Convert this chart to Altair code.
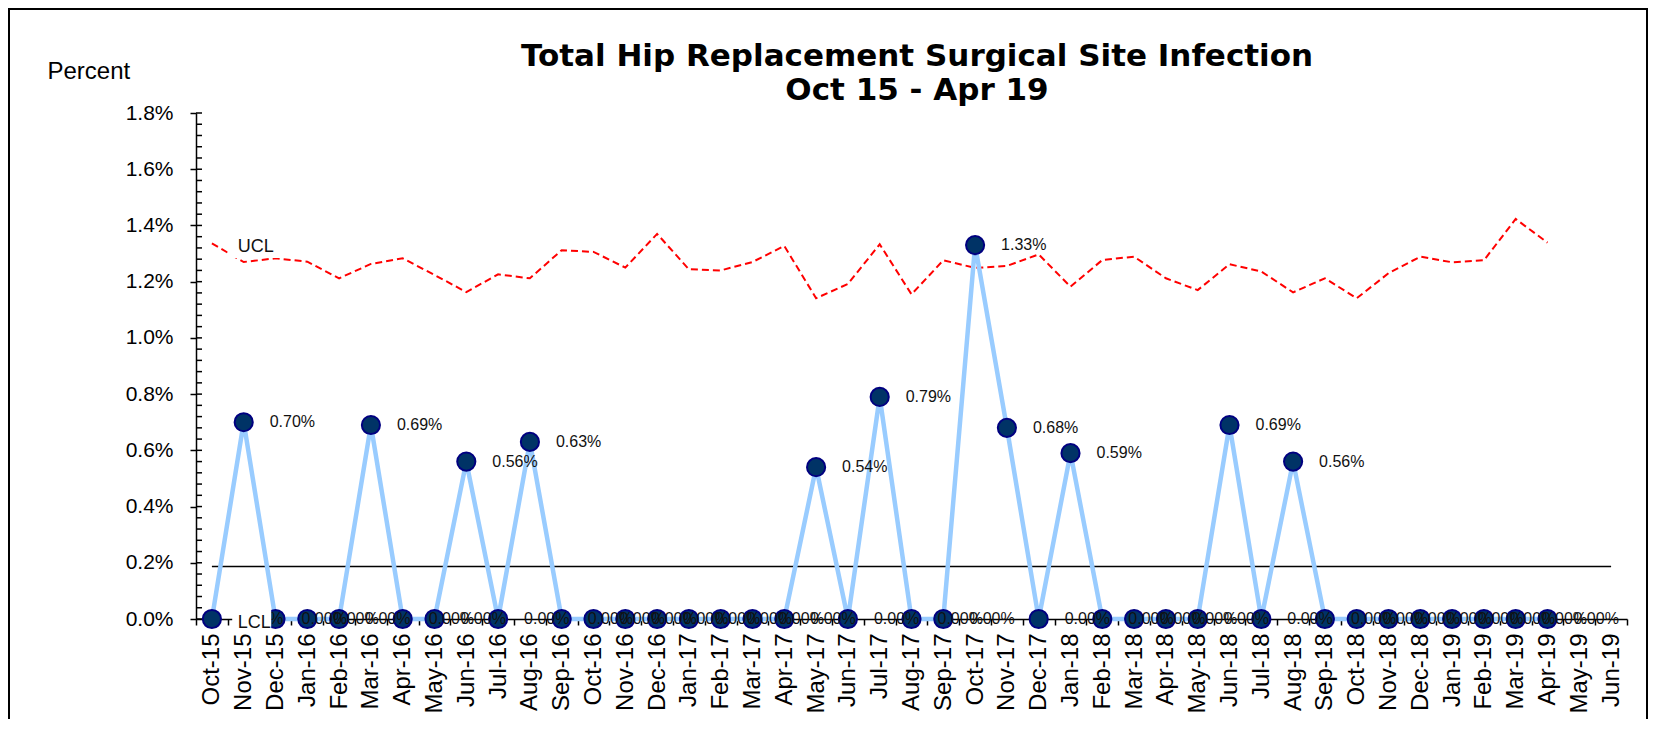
import altair as alt
import pandas as pd

FONT = "Liberation Sans"

months = ["Oct-15", "Nov-15", "Dec-15",
          "Jan-16", "Feb-16", "Mar-16", "Apr-16", "May-16", "Jun-16",
          "Jul-16", "Aug-16", "Sep-16", "Oct-16", "Nov-16", "Dec-16",
          "Jan-17", "Feb-17", "Mar-17", "Apr-17", "May-17", "Jun-17",
          "Jul-17", "Aug-17", "Sep-17", "Oct-17", "Nov-17", "Dec-17",
          "Jan-18", "Feb-18", "Mar-18", "Apr-18", "May-18", "Jun-18",
          "Jul-18", "Aug-18", "Sep-18", "Oct-18", "Nov-18", "Dec-18",
          "Jan-19", "Feb-19", "Mar-19", "Apr-19", "May-19", "Jun-19"]

infection_rate = [0.00, 0.70, 0.00, 0.00, 0.00, 0.69, 0.00, 0.00, 0.56,
                  0.00, 0.63, 0.00, 0.00, 0.00, 0.00, 0.00, 0.00, 0.00,
                  0.00, 0.54, 0.00, 0.79, 0.00, 0.00, 1.33, 0.68, 0.00,
                  0.59, 0.00, 0.00, 0.00, 0.00, 0.69, 0.00, 0.56, 0.00,
                  0.00, 0.00, 0.00, 0.00, 0.00, 0.00, 0.00]

ucl = [1.336, 1.270, 1.283, 1.271, 1.212, 1.263, 1.283, 1.224, 1.163,
       1.226, 1.212, 1.312, 1.306, 1.250, 1.370, 1.244, 1.240, 1.270,
       1.327, 1.141, 1.192, 1.333, 1.155, 1.276, 1.249, 1.256, 1.297,
       1.182, 1.277, 1.289, 1.212, 1.170, 1.262, 1.236, 1.162, 1.212,
       1.141, 1.230, 1.289, 1.269, 1.276, 1.423, 1.339]

lcl_value = 0.0
mean_rate = 0.187

y_major = [0.0, 0.2, 0.4, 0.6, 0.8, 1.0, 1.2, 1.4, 1.6, 1.8]
y_all_ticks = [round(i * 0.04, 2) for i in range(46)]

title_lines = ["Total Hip Replacement Surgical Site Infection", "Oct 15 - Apr 19"]

n = len(infection_rate)
df = pd.DataFrame({"month": months[:n], "rate": infection_rate, "ucl": ucl})
df["label"] = [f"{v:.2f}%" for v in infection_rate]
mean_df = pd.DataFrame({"month": months, "mean": [mean_rate] * len(months)})
tick_df = pd.DataFrame({"tick": y_all_ticks})
ucl_lbl = pd.DataFrame({"month": [months[1]], "value": [ucl[1]], "text": ["UCL"]})
lcl_lbl = pd.DataFrame({"month": [months[1]], "value": [lcl_value], "text": ["LCL"]})
title_df = pd.DataFrame({"line": title_lines})
one_df = pd.DataFrame({"frame": [0]})

xscale = alt.Scale(type="band", domain=months, paddingInner=0, paddingOuter=0)
x_axis = alt.Axis(title=None, labelAngle=-90, labelFontSize=24, labelFont=FONT,
                  labelColor="black", labelPadding=8, tickBand="extent", tickSize=6,
                  tickColor="black", tickWidth=1.5, domainColor="black", domainWidth=1.5,
                  labelOverlap=False, grid=False)

yscale = alt.Scale(domain=[0, 1.8], nice=False, zero=True)
y_axis = alt.Axis(values=y_major, labelExpr="format(datum.value, '.1f') + '%'",
                  title="Percent", titleAngle=0, titleAlign="left",
                  titleBaseline="alphabetic", titleX=-149, titleY=-35,
                  titleFontSize=24, titleFontWeight="normal", titleFont=FONT,
                  titleColor="black", labelFontSize=21, labelFont=FONT,
                  labelColor="black", labelPadding=17, tickSize=6, tickColor="black",
                  tickWidth=1.5, domainColor="black", domainWidth=1.5, grid=False)


def X():
    return alt.X("month:N", bandPosition=0.5, scale=xscale, axis=x_axis)


def Y(field):
    return alt.Y(field, scale=yscale, axis=y_axis)


mean_line = alt.Chart(mean_df).mark_line(color="black", strokeWidth=1.6).encode(
    x=X(), y=Y("mean:Q"))

inner_ticks = alt.Chart(tick_df).mark_rule(color="black", strokeWidth=1.5).encode(
    y=Y("tick:Q"), x=alt.value(0), x2=alt.value(6))

ucl_line = alt.Chart(df).mark_line(color="#FF0000", strokeDash=[7, 4], strokeWidth=2).encode(
    x=X(), y=Y("ucl:Q"))

rate_line = alt.Chart(df).mark_line(color="#99CCFF", strokeWidth=4.5).encode(
    x=X(), y=Y("rate:Q"))

rate_pts = alt.Chart(df).mark_point(shape="circle", filled=True, fill="#003366",
                                    stroke="#000080", strokeWidth=2, size=330,
                                    opacity=1).encode(x=X(), y=Y("rate:Q"))

rate_lbl = alt.Chart(df).mark_text(align="left", baseline="middle", dx=26, fontSize=16,
                                   font=FONT, color="#111111").encode(
    x=X(), y=Y("rate:Q"), text="label:N")

# white label boxes behind the UCL / LCL captions
ucl_box = alt.Chart(ucl_lbl).mark_point(
    shape="M-1,-0.39L1,-0.39L1,0.39L-1,0.39Z", filled=True, color="white", opacity=1,
    size=3136, xOffset=12, yOffset=-15).encode(x=X(), y=Y("value:Q"))
lcl_box = alt.Chart(lcl_lbl).mark_point(
    shape="M-1,-0.6L1,-0.6L1,0.6L-1,0.6Z", filled=True, color="white", opacity=1,
    size=1521, xOffset=8, yOffset=2).encode(x=X(), y=Y("value:Q"))

ucl_text = alt.Chart(ucl_lbl).mark_text(align="left", baseline="middle", dx=-6, dy=-15,
                                        fontSize=18, font=FONT, color="#111111").encode(
    x=X(), y=Y("value:Q"), text="text:N")

lcl_text = alt.Chart(lcl_lbl).mark_text(align="left", baseline="middle", dx=-6, dy=4,
                                        fontSize=18, font=FONT, color="#111111").encode(
    x=X(), y=Y("value:Q"), text="text:N")

title_text = alt.Chart(title_df).mark_text(
    align="center", baseline="alphabetic", fontSize=31, font="DejaVu Sans",
    fontWeight="bold", color="black").encode(
    x=alt.value(721), y=alt.value(-47), text="line:N",
    yOffset=alt.YOffset("line:N", sort=title_lines,
                        scale=alt.Scale(type="point", range=[0, 34], padding=0)))

frame = alt.Chart(one_df).mark_rect(fill="transparent", stroke="black", strokeWidth=2).encode(
    x=alt.value(-187), x2=alt.value(1451), y=alt.value(-104), y2=alt.value(640))

chart = alt.layer(
    mean_line, inner_ticks, ucl_line, rate_line, rate_pts, rate_lbl,
    ucl_box, lcl_box, ucl_text, lcl_text, title_text, frame
).properties(
    width=1431, height=506,
    autosize=alt.AutoSizeParams(type="none"),
    padding={"left": 188, "top": 105, "right": 22, "bottom": 100},
    background="white",
).configure_view(stroke=None)

chart.save("out.html", embed_options={"renderer": "svg", "actions": False})
